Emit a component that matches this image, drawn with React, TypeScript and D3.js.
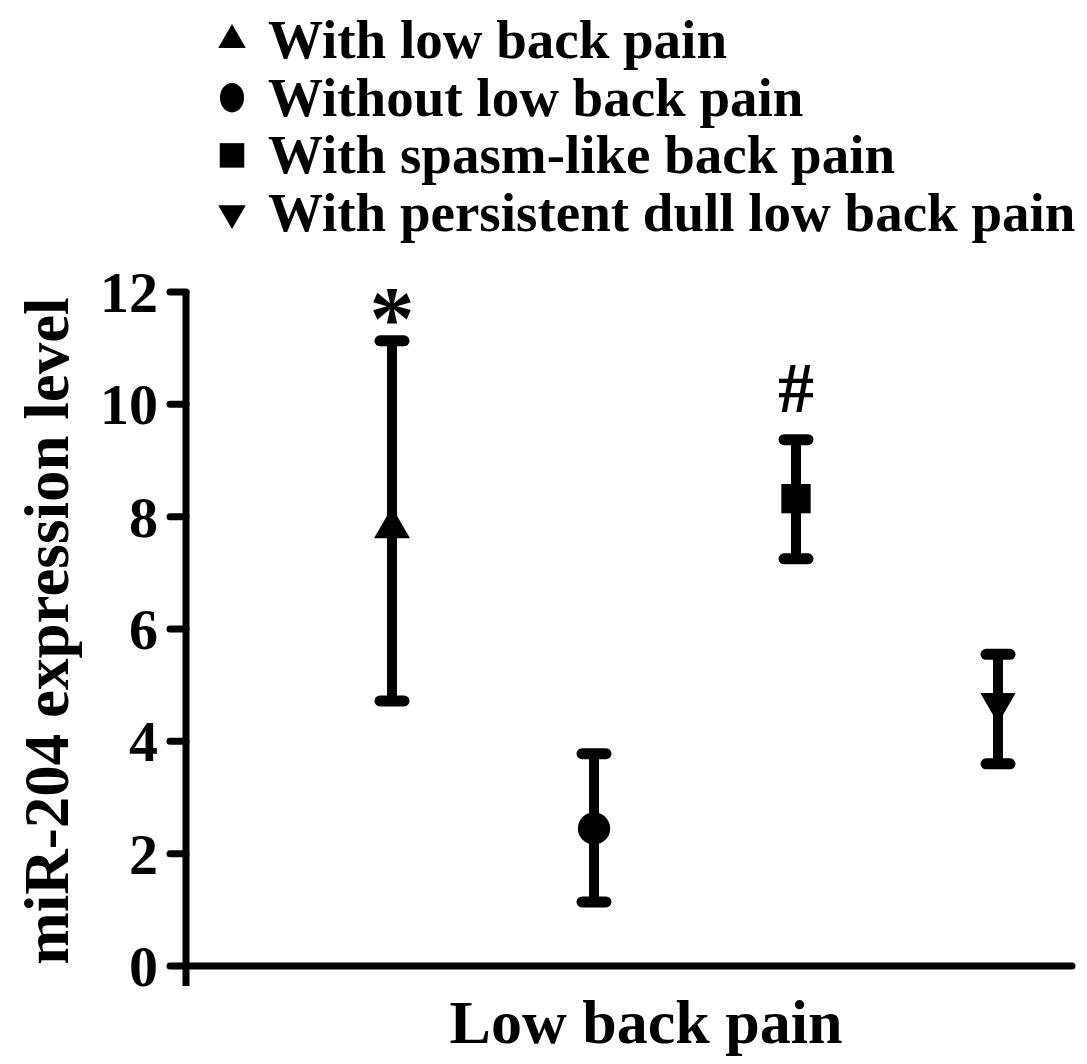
import React from 'react';
import * as d3 from 'd3';

// groups, means and error bar ends
const groups = [
  'With low back pain',
  'Without low back pain',
  'With spasm-like back pain',
  'With persistent dull low back pain',
];
const means = [7.8, 2.45, 8.32, 4.68];
const upper = [11.13, 3.78, 9.37, 5.55];
const lower = [4.72, 1.14, 7.25, 3.6];
const marks = ['*', '', '#', ''];
const yTicks = [0, 2, 4, 6, 8, 10, 12];

const W = 1087;
const H = 1064;
const font = '"Liberation Serif", "Times New Roman", serif';

const x = d3.scalePoint<string>().domain(groups).range([392, 998]);
const y = d3.scaleLinear().domain([0, 12]).range([966, 292]);

const symbols = [d3.symbolTriangle, d3.symbolCircle, d3.symbolSquare, d3.symbolTriangle];
const flip = [false, false, false, true];
const sizes = [560, 820, 860, 540];
const legendSizes = [330, 560, 600, 330];

const symbolPath = (i: number, size: number) => d3.symbol().type(symbols[i]).size(size)() as string;

export default function App() {
  const axisX = 186;
  return (
    <svg
      width={W}
      height={H}
      style={{ position: 'absolute', left: 0, top: 0, background: '#fff' }}
      fontFamily={font}
      fontWeight="bold"
    >
      {/* legend */}
      <g>
        {groups.map((g, i) => {
          const cy = 40 + i * 57.7;
          return (
            <g key={g}>
              <path
                d={symbolPath(i, legendSizes[i])}
                transform={`translate(232,${cy}) ${flip[i] ? 'rotate(180)' : ''} ${i === 1 ? 'scale(0.9,1.1)' : ''}`}
                fill="#000"
              />
              <text x={268} y={cy + 18} fontSize={55}>
                {g}
              </text>
            </g>
          );
        })}
      </g>

      {/* y axis */}
      <line x1={axisX} x2={axisX} y1={y(12) - 2} y2={986} stroke="#000" strokeWidth={7} />
      <line x1={axisX} x2={1072} y1={y(0)} y2={y(0)} stroke="#000" strokeWidth={7} strokeLinecap="round" />
      {yTicks.map((t) => (
        <g key={t}>
          <line x1={axisX - 16} x2={axisX} y1={y(t)} y2={y(t)} stroke="#000" strokeWidth={7} strokeLinecap="round" />
          <text x={158} y={y(t) + 20} fontSize={58} textAnchor="end">
            {t}
          </text>
        </g>
      ))}
      <text
        transform={`translate(68,${(y(0) + y(12)) / 2 + 2}) rotate(-90)`}
        fontSize={63}
        textAnchor="middle"
      >
        miR-204 expression level
      </text>

      {/* x label */}
      <text x={646} y={1043} fontSize={62} textAnchor="middle">
        Low back pain
      </text>

      {/* error bars and means */}
      {groups.map((g, i) => {
        const cx = x(g) as number;
        return (
          <g key={g}>
            <line x1={cx} x2={cx} y1={y(upper[i])} y2={y(lower[i])} stroke="#000" strokeWidth={10} />
            {[upper[i], lower[i]].map((v, k) => (
              <line
                key={k}
                x1={cx - 12}
                x2={cx + 12}
                y1={y(v)}
                y2={y(v)}
                stroke="#000"
                strokeWidth={11}
                strokeLinecap="round"
              />
            ))}
            <path
              d={symbolPath(i, sizes[i])}
              transform={`translate(${cx},${y(means[i])}) ${flip[i] ? 'rotate(180)' : ''}`}
              fill="#000"
            />
            {marks[i] === '*' && (
              <text x={cx} y={y(upper[i]) + 8} fontSize={90} textAnchor="middle">
                *
              </text>
            )}
            {marks[i] === '#' && (
              <text x={cx} y={y(upper[i]) - 28} fontSize={72} textAnchor="middle">
                #
              </text>
            )}
          </g>
        );
      })}
    </svg>
  );
}
